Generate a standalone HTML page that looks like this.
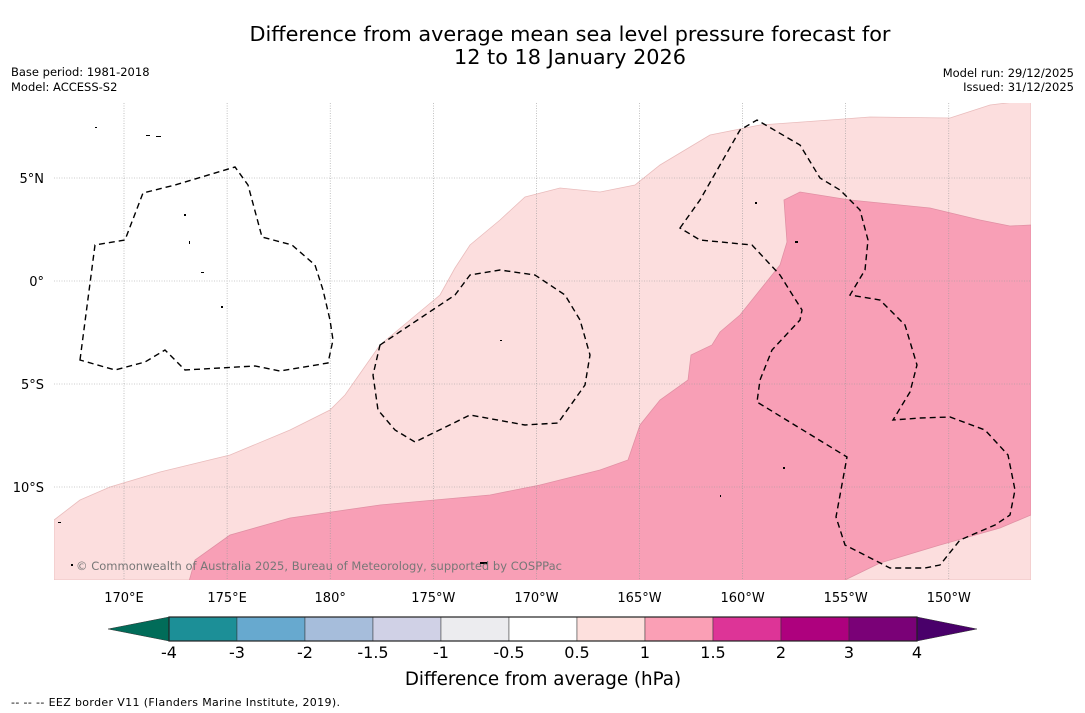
<!DOCTYPE html>
<html><head><meta charset="utf-8"><style>
body{margin:0;background:#fff;width:1085px;height:713px;overflow:hidden;font-family:"Liberation Sans","DejaVu Sans",sans-serif}
svg{position:absolute;left:0;top:0}
</style></head><body>
<svg width="1085" height="713" font-family="DejaVu Sans, Liberation Sans, sans-serif">
<text x="570" y="41" font-size="20.8" text-anchor="middle">Difference from average mean sea level pressure forecast for</text>
<text x="570" y="64" font-size="20.8" text-anchor="middle">12 to 18 January 2026</text>
<text x="11" y="76" font-size="11.5">Base period: 1981-2018</text>
<text x="11" y="91" font-size="11.5">Model: ACCESS-S2</text>
<text x="1074" y="77" font-size="11.5" text-anchor="end">Model run: 29/12/2025</text>
<text x="1074" y="91" font-size="11.5" text-anchor="end">Issued: 31/12/2025</text>
<g>
<clipPath id="mc"><rect x="54" y="103" width="977" height="477"/></clipPath>
<g clip-path="url(#mc)">
<rect x="54" y="103" width="977" height="477" fill="#fff"/>
<path fill="#fcdede" stroke="#e9bcbc" stroke-width="0.8" d="M54,520 L80,500 L110,487 L160,472 L230,455 L290,430 L330,410 L345,395 L380,345 L410,320 L440,295 L455,268 L470,245 L500,220 L525,197 L560,188 L600,192 L635,185 L660,165 L710,135 L760,125 L830,120 L870,117 L950,118 L990,105 L1031,100 L1031,580 L54,580 Z"/>
<path fill="#f89fb6" stroke="#e190a4" stroke-width="0.8" d="M188,585 L195,560 L230,535 L290,518 L380,505 L490,495 L540,485 L600,470 L628,460 L640,425 L660,400 L688,380 L691,355 L712,345 L720,332 L740,315 L760,290 L780,265 L787,242 L784,200 L800,192 L850,200 L930,208 L980,220 L1010,226 L1031,225 L1031,515 L1000,528 L940,545 L880,563 L845,580 L840,585 Z"/>
<g stroke="#999" stroke-width="0.6" stroke-dasharray="1,1.5" fill="none" id="grid"></g>
<g fill="none" stroke="#000" stroke-width="1.4" stroke-dasharray="6,4">
<path d="M80,360 L95,245 L125,240 L143,193 L175,185 L235,167 L248,185 L262,237 L292,245 L315,265 L323,290 L330,320 L333,340 L328,363 L280,371 L255,366 L185,370 L165,350 L145,362 L115,370 Z"/>
<path d="M380,345 L455,295 L470,275 L500,270 L535,275 L565,295 L580,320 L590,355 L585,385 L558,423 L525,425 L470,415 L415,442 L395,430 L378,410 L373,375 Z"/>
<path d="M680,228 L700,200 L740,130 L757,120 L800,145 L820,178 L840,190 L860,210 L868,240 L865,270 L850,295 L880,300 L905,325 L917,365 L910,392 L893,420 L920,418 L950,417 L985,430 L1008,455 L1015,490 L1010,515 L995,525 L960,540 L940,565 L925,568 L890,568 L845,545 L836,517 L847,457 L757,402 L760,380 L772,350 L800,320 L802,310 L780,275 L752,245 L700,240 Z"/>
</g>
<g fill="#000">
<rect x="146" y="135" width="4" height="1"/><rect x="156" y="136" width="5" height="1"/><rect x="95" y="127" width="2" height="1"/><rect x="184" y="214" width="2" height="2"/><rect x="189" y="241" width="1" height="3"/><rect x="201" y="272" width="3" height="1"/><rect x="221" y="306" width="2" height="2"/><rect x="500" y="340" width="2" height="1"/><rect x="480" y="562" width="8" height="2"/><rect x="795" y="241" width="3" height="2"/><rect x="755" y="202" width="2" height="2"/><rect x="783" y="467" width="2" height="2"/><rect x="720" y="495" width="1" height="2"/><rect x="58" y="522" width="3" height="1"/><rect x="71" y="564" width="2" height="2"/>
</g>
</g>
<text x="76" y="570" font-size="11.5" fill="#777" textLength="486">© Commonwealth of Australia 2025, Bureau of Meteorology, supported by COSPPac</text>
</g>
<g id="yl" font-size="13" text-anchor="end"></g>
<g id="xl" font-size="13" text-anchor="middle"></g>
<g id="cb"></g>
<text x="543" y="685" font-size="18.3" text-anchor="middle">Difference from average (hPa)</text>
<text x="11" y="706" font-size="11" textLength="329">--  --  -- EEZ border V11 (Flanders Marine Institute, 2019).</text>
</svg>
<script>
const lonTicks=["170°E","175°E","180°","175°W","170°W","165°W","160°W","155°W","150°W"];
const latTicks=["5°N","0°","5°S","10°S"];
const latValues=[5,0,-5,-10];
const levels=["-4","-3","-2","-1.5","-1","-0.5","0.5","1","1.5","2","3","4"];
const levelColors=["#1c8f97","#67a9cf","#a6bddb","#d0d1e6","#ececef","#ffffff","#fde0dd","#fa9fb5","#dd3497","#ae017e","#7a0177"];
const underColor="#016c59", overColor="#49006a";
const NS="http://www.w3.org/2000/svg";
function mk(t,a,p){const e=document.createElementNS(NS,t);for(const k in a)e.setAttribute(k,a[k]);p.appendChild(e);return e;}
const lonX=i=>124+i*103.1;
const latY=v=>281-v*20.6;
const grid=document.getElementById('grid'),xl=document.getElementById('xl'),yl=document.getElementById('yl');
lonTicks.forEach((t,i)=>{
 const l=mk('line',{x1:lonX(i),x2:lonX(i),y1:103,y2:580},grid);
 
 
 const tx=mk('text',{x:lonX(i),y:602},xl);tx.textContent=t;
 
 
});
latValues.forEach((v,i)=>{
 const l=mk('line',{x1:54,x2:1031,y1:latY(v),y2:latY(v)},grid);
 
 
 const tx=mk('text',{x:44,y:latY(v)+5},yl);tx.textContent=latTicks[i];
 
 
});
const cb=document.getElementById('cb');
const cx0=169,cw=68,cy=617,ch=24;
const cx=i=>cx0+i*cw;
levelColors.forEach((c,i)=>{
 const r=mk('rect',{x:cx(i),y:cy,width:cw,height:ch,fill:c,stroke:'#333','stroke-width':0.5},cb);
 
 
});
const u=mk('polygon',{points:`${cx(0)},${cy} 108,${cy+ch/2} ${cx(0)},${cy+ch}`,fill:underColor,stroke:'#333','stroke-width':0.5},cb);


const n=levelColors.length;
const o=mk('polygon',{points:`${cx(n)},${cy} 977,${cy+ch/2} ${cx(n)},${cy+ch}`,fill:overColor,stroke:'#333','stroke-width':0.5},cb);


mk('rect',{x:cx0,y:cy,width:cw*n,height:ch,fill:'none',stroke:'#222','stroke-width':1.2},cb);
levels.forEach((t,i)=>{
 const tx=mk('text',{x:cx(i),y:658,'font-size':16,'text-anchor':'middle'},cb);tx.textContent=t;
 
 
});
</script>
</body></html>
